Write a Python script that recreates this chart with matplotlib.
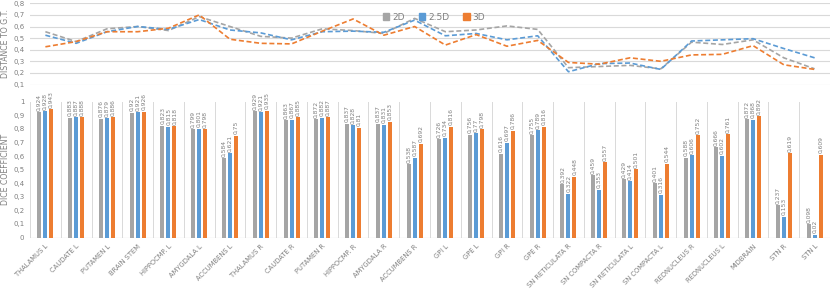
import matplotlib.pyplot as plt
import numpy as np
from matplotlib.patches import Patch

categories = ['THALAMUS L', 'CAUDATE L', 'PUTAMEN L', 'BRAIN STEM', 'HIPPOCMP. L',
              'AMYGDALA L', 'ACCUMBENS L', 'THALAMUS R', 'CAUDATE R', 'PUTAMEN R',
              'HIPPOCMP. R', 'AMYGDALA R', 'ACCUMBENS R', 'GPI L', 'GPE L', 'GPI R',
              'GPE R', 'SN RETICULATA R', 'SN COMPACTA R', 'SN RETICULATA L',
              'SN COMPACTA L', 'REDNUCLEUS R', 'REDNUCLEUS L', 'MIDBRAIN', 'STN R', 'STN L']

# distance to ground truth (top panel)
dist_2d = [0.555, 0.47, 0.58, 0.60, 0.565, 0.685, 0.60, 0.515, 0.50, 0.58, 0.565, 0.54, 0.67,
           0.555, 0.57, 0.605, 0.575, 0.245, 0.255, 0.265, 0.235, 0.465, 0.445, 0.485, 0.33, 0.235]
dist_25d = [0.525, 0.455, 0.555, 0.60, 0.575, 0.66, 0.57, 0.545, 0.485, 0.555, 0.56, 0.55, 0.655,
            0.52, 0.54, 0.485, 0.52, 0.21, 0.28, 0.285, 0.23, 0.475, 0.485, 0.495, 0.41, 0.33]
dist_3d = [0.425, 0.47, 0.555, 0.555, 0.585, 0.70, 0.49, 0.455, 0.45, 0.56, 0.665, 0.525, 0.60,
           0.44, 0.53, 0.43, 0.48, 0.29, 0.275, 0.33, 0.30, 0.355, 0.36, 0.435, 0.27, 0.23]

# dice coefficient (bottom panel)
dice_2d = [0.924, 0.883, 0.876, 0.92, 0.823, 0.799, 0.584, 0.929, 0.863, 0.872, 0.837, 0.837, 0.538,
           0.726, 0.756, 0.616, 0.755, 0.392, 0.459, 0.429, 0.401, 0.588, 0.666, 0.872, 0.237, 0.098]
dice_25d = [0.928, 0.887, 0.879, 0.921, 0.815, 0.801, 0.621, 0.921, 0.867, 0.882, 0.828, 0.831, 0.587,
            0.734, 0.77, 0.697, 0.789, 0.322, 0.353, 0.414, 0.316, 0.606, 0.602, 0.868, 0.153, 0.02]
dice_3d = [0.943, 0.888, 0.886, 0.926, 0.818, 0.798, 0.75, 0.935, 0.885, 0.887, 0.81, 0.853, 0.692,
           0.816, 0.798, 0.786, 0.816, 0.448, 0.557, 0.501, 0.544, 0.752, 0.761, 0.892, 0.619, 0.609]

series = ['2D', '2.5D', '3D']
colors = ['#A5A5A5', '#5B9BD5', '#ED7D31']
txt = '#7F7F7F'
grid = '#D9D9D9'

x = np.arange(len(categories))
W, H = 831, 295
fig = plt.figure(figsize=(W / 100, H / 100), dpi=100)

left, right = 30 / W, 830 / W
ax_b = fig.add_axes([left, 1 - 237.5 / H, right - left, (237.5 - 101.7) / H])
ax_t = fig.add_axes([left, 1 - 84.5 / H, right - left, (84.5 - 3.3) / H])
for ax in (ax_t, ax_b):
    ax.patch.set_visible(False)
    for s in ax.spines.values():
        s.set_visible(False)
    ax.set_xlim(-0.5, len(categories) - 0.5)

# top: distance lines
for vals, c in zip([dist_2d, dist_25d, dist_3d], colors):
    ax_t.plot(x, vals, color=c, lw=1.2, linestyle=(0, (3, 1.6)), zorder=3)
ax_t.set_ylim(0.1, 0.8)
ax_t.set_yticks(np.arange(0.1, 0.81, 0.1))
ax_t.set_yticklabels([f'{v:.1f}'.replace('.', ',') for v in np.arange(0.1, 0.81, 0.1)])
ax_t.yaxis.grid(True, color=grid, lw=0.8)
ax_t.set_axisbelow(True)
ax_t.set_xticks([])
ax_t.tick_params(axis='y', length=0, labelsize=5, labelcolor=txt, pad=4)
ax_t.set_ylabel('DISTANCE TO G.T.', fontsize=5.6, color=txt, labelpad=2)
handles = [Patch(color=c, label=s) for s, c in zip(series, colors)]
leg = ax_t.legend(handles=handles, loc='center', bbox_to_anchor=(0.505, 0.83), ncol=3,
                  frameon=False, fontsize=6.5, handlelength=0.7, handleheight=0.7,
                  handletextpad=0.3, columnspacing=1.6)
for t in leg.get_texts():
    t.set_color(txt)

# bottom: dice bars
bw = 0.13
step = 0.195
for i, (vals, c) in enumerate(zip([dice_2d, dice_25d, dice_3d], colors)):
    pos = x + (i - 1) * step
    ax_b.bar(pos, vals, width=bw, color=c, zorder=3)
    for p, v in zip(pos, vals):
        ax_b.text(p, v + 0.01, f'{v:g}'.replace('.', ','), rotation=90, ha='center',
                  va='bottom', fontsize=4.3, color=txt, zorder=4)
for b in np.arange(-0.5, len(categories), 1.0):
    ax_b.axvline(b, color=grid, lw=0.7, ymin=0, ymax=1, zorder=1)
ax_b.axhline(0, color=grid, lw=0.9, zorder=2)
ax_b.set_ylim(0, 1)
yt = np.arange(0, 1.01, 0.1)
ax_b.set_yticks(yt)
ax_b.set_yticklabels(['0' if v == 0 else ('1' if v > 0.99 else f'{v:.1f}'.replace('.', ',')) for v in yt])
ax_b.set_xticks(x)
ax_b.set_xticklabels(categories, rotation=45, ha='right', rotation_mode='anchor')
ax_b.tick_params(axis='x', length=0, labelsize=4.9, labelcolor=txt, pad=4)
ax_b.tick_params(axis='y', length=0, labelsize=5, labelcolor=txt, pad=4)
ax_b.set_ylabel('DICE COEFFICIENT', fontsize=5.6, color=txt, labelpad=2)

fig.savefig('out.png', dpi=100)
